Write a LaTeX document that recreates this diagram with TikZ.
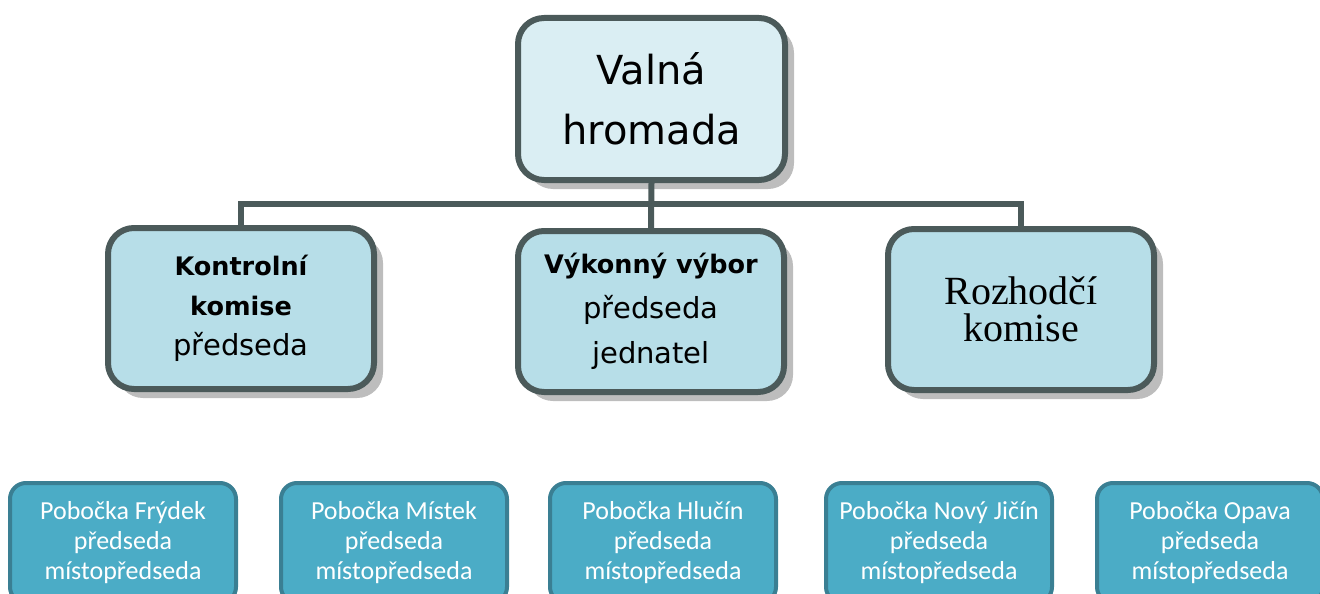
\documentclass[tikz,border=0pt]{standalone}
\usepackage{fontspec}
\setmainfont{DejaVu Sans}
\newfontfamily\calib{Carlito}
\newfontfamily\tms{Liberation Serif}
\usetikzlibrary{shadows}
\definecolor{bordc}{HTML}{4B5A5A}
\definecolor{topfill}{HTML}{DAEEF3}
\definecolor{midfill}{HTML}{B7DEE8}
\definecolor{branchfill}{HTML}{4BACC6}
\definecolor{branchbord}{HTML}{3A7F93}
\definecolor{shadowc}{HTML}{BDBDBD}
\begin{document}
\begin{tikzpicture}[x=1pt,y=-1pt,
  orgbox/.style={draw=bordc, line width=6pt, rounded corners=26pt, align=center,
    inner sep=0pt, text=black, minimum width=266pt, minimum height=161pt,
    drop shadow={shadow xshift=9pt, shadow yshift=-9pt, fill=shadowc, opacity=1}},
  branchbox/.style={draw=branchbord, line width=4pt, fill=branchfill, rounded corners=16pt,
    minimum width=226pt, minimum height=120pt, inner sep=0pt, align=center, text=white,
    font=\calib\fontsize{26}{30}\selectfont},
  link/.style={draw=bordc, line width=6pt}]
\useasboundingbox (0,0) rectangle (1320,594);
\clip (0,0) rectangle (1320,594);
% top
\node[orgbox, fill=topfill, minimum width=267pt, minimum height=162pt,
  font=\fontsize{40}{60}\selectfont] (vh) at (651.5,99) {Valná\\hromada};
\node[orgbox, fill=midfill, font=\fontsize{29}{40}\selectfont] (kk) at (241,308.5)
  {{\bfseries\fontsize{25.5}{40}\selectfont Kontrolní}\\{\bfseries\fontsize{25.5}{40}\selectfont komise}\\předseda};
\node[orgbox, fill=midfill, font=\fontsize{29}{45}\selectfont] (vv) at (651,311.5)
  {{\bfseries\fontsize{25.5}{45}\selectfont Výkonný výbor}\\předseda\\jednatel};
\node[orgbox, fill=midfill, font=\tms\fontsize{40}{37}\selectfont] (rk) at (1021,309.5)
  {Rozhodčí\\komise};
\coordinate (bus) at (651.5,204);
\path[link] (vh.south) -- (vv.north);
\path[link] (kk.north) |- (bus) -| (rk.north);
% branches
\node[branchbox] (b1) at (123,543) {Pobočka Frýdek\\předseda\\místopředseda};
\node[branchbox] (b2) at (394,543) {Pobočka Místek\\předseda\\místopředseda};
\node[branchbox] (b3) at (663,543) {Pobočka Hlučín\\předseda\\místopředseda};
\node[branchbox] (b4) at (939,543) {Pobočka Nový Jičín\\předseda\\místopředseda};
\node[branchbox] (b5) at (1210,543) {Pobočka Opava\\předseda\\místopředseda};
\end{tikzpicture}
\end{document}
